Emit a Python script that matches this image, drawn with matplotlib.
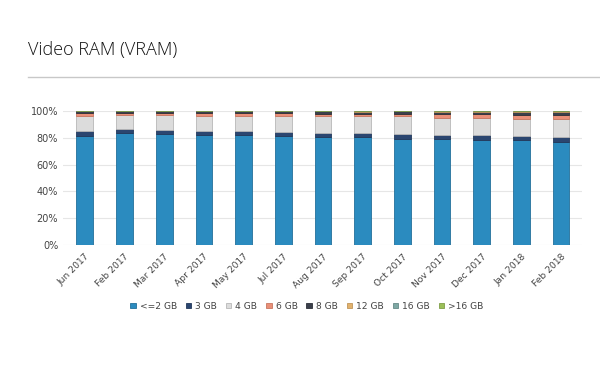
import matplotlib
matplotlib.use('Agg')
import matplotlib.pyplot as plt
import numpy as np

# months as labelled in the reference (first one reads "Jun 2017")
months = ['Jun 2017', 'Feb 2017', 'Mar 2017', 'Apr 2017', 'May 2017',
          'Jul 2017', 'Aug 2017', 'Sep 2017', 'Oct 2017', 'Nov 2017',
          'Dec 2017', 'Jan 2018', 'Feb 2018']

# share of users (%) per VRAM class
le2gb = [81.6, 83.3, 82.6, 82.1, 82.1, 81.1, 80.3, 80.3, 79.3, 78.8, 78.1, 78.1, 77.1]
gb3 = [3.2, 3.0, 3.2, 3.0, 3.0, 3.0, 3.5, 3.0, 3.5, 3.5, 3.7, 3.2, 3.7]
gb4 = [11.7, 10.5, 11.0, 11.4, 11.2, 12.2, 12.0, 12.5, 13.0, 12.7, 13.2, 13.0, 13.2]
gb6 = [1.8, 1.7, 1.7, 1.8, 1.9, 1.8, 1.9, 1.9, 2.0, 2.3, 2.3, 2.5, 2.6]
gb8 = [1.4, 1.2, 1.2, 1.4, 1.5, 1.6, 1.9, 1.8, 1.8, 2.2, 2.2, 2.7, 2.9]
gb12 = [0.2, 0.2, 0.2, 0.2, 0.2, 0.2, 0.3, 0.4, 0.3, 0.4, 0.4, 0.4, 0.4]
gb16 = [0.05, 0.05, 0.05, 0.05, 0.05, 0.05, 0.05, 0.05, 0.05, 0.05, 0.05, 0.05, 0.05]
gt16 = [0.05, 0.05, 0.05, 0.05, 0.05, 0.05, 0.05, 0.05, 0.05, 0.05, 0.05, 0.05, 0.05]

series = [('<=2 GB', le2gb), ('3 GB', gb3), ('4 GB', gb4), ('6 GB', gb6),
          ('8 GB', gb8), ('12 GB', gb12), ('16 GB', gb16), ('>16 GB', gt16)]
colors = ['#2b8bbf', '#2b4670', '#dcdcdc', '#e98f78', '#3b3f4b',
          '#e2b26c', '#7ea8a4', '#9bbf58']
edges = ['#23709a', '#22385a', '#b8b8b8', '#c77660', '#2c2f38',
         '#bf955a', '#668a87', '#7f9e48']

fig = plt.figure(figsize=(6, 3.72), dpi=100)
fig.text(0.047, 0.865, 'Video RAM (VRAM)', fontsize=13, family='Open Sans',
         fontweight='light', color='#111111', va='center')
fig.add_artist(plt.Line2D([0.047, 1.0], [0.793, 0.793], color='#c8c8c8', lw=1))

ax = fig.add_axes([0.105, 0.341, 0.865, 0.361])
x = np.arange(len(months))
bottom = np.zeros(len(months))
for (name, vals), c, e in zip(series, colors, edges):
    ax.bar(x, vals, 0.42, bottom=bottom, color=c, edgecolor=e, linewidth=0.6,
           label=name, zorder=3)
    bottom += np.array(vals)

ax.set_ylim(0, 100)
ax.set_xlim(-0.55, len(months) - 0.47)
ax.set_yticks(np.arange(0, 101, 20))
ax.set_yticklabels([f'{v}%' for v in range(0, 101, 20)])
ax.set_xticks(x)
ax.set_xticklabels(months, rotation=45, ha='right', rotation_mode='anchor')
ax.tick_params(axis='both', length=0, labelsize=7, colors='#444444')
ax.tick_params(axis='x', labelsize=6.6, pad=5)
ax.grid(axis='y', color='#e6e6e6', lw=0.8, zorder=0)
for s in ax.spines.values():
    s.set_visible(False)

ax.legend(loc='upper center', bbox_to_anchor=(0.47, -0.36), ncol=8,
          frameon=False, fontsize=6.6, handlelength=0.6, handleheight=0.6,
          handletextpad=0.45, columnspacing=0.95, labelcolor='#444444')

fig.savefig('out.png', dpi=100)
